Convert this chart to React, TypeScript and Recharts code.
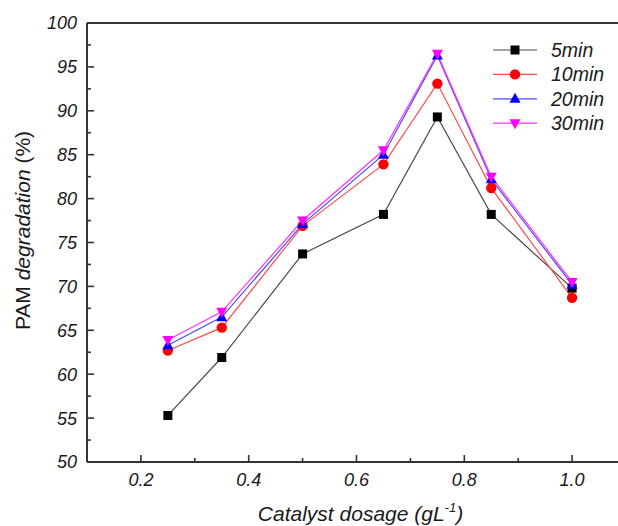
import React from 'react';
import { LineChart, Line, XAxis, YAxis, ReferenceLine } from 'recharts';

const dosage = [0.25, 0.35, 0.5, 0.65, 0.75, 0.85, 1.0];
const min5 = [55.3, 61.9, 73.7, 78.2, 89.3, 78.2, 69.8];
const min10 = [62.7, 65.3, 76.9, 83.9, 93.1, 81.2, 68.7];
const min20 = [63.3, 66.5, 77.1, 85.0, 96.3, 82.2, 70.2];
const min30 = [63.9, 67.1, 77.5, 85.5, 96.5, 82.5, 70.5];

const seriesNames = ['5min', '10min', '20min', '30min'];
const xTicks = [0.1, 0.2, 0.3, 0.4, 0.5, 0.6, 0.7, 0.8, 0.9, 1.0, 1.1];
const yTicks = [50, 52.5, 55, 57.5, 60, 62.5, 65, 67.5, 70, 72.5, 75, 77.5, 80, 82.5, 85, 87.5, 90, 92.5, 95, 97.5, 100];

const data = dosage.map((d, i) => ({
  dosage: d,
  m5: min5[i],
  m10: min10[i],
  m20: min20[i],
  m30: min30[i],
}));

const FONT = '"Liberation Sans", Arial, sans-serif';
const AXIS = '#333';
const TEXT = '#1a1a1a';

type Shape = 'square' | 'circle' | 'up' | 'down';

function Marker({ cx, cy, shape, color }: { cx: number; cy: number; shape: Shape; color: string }) {
  if (cx == null || cy == null || isNaN(cx) || isNaN(cy)) return null;
  if (shape === 'square') return <rect x={cx - 4.5} y={cy - 4.5} width={9} height={9} fill={color} />;
  if (shape === 'circle') return <circle cx={cx} cy={cy} r={5.2} fill={color} />;
  if (shape === 'up')
    return <polygon points={`${cx},${cy - 6} ${cx - 5.5},${cy + 4} ${cx + 5.5},${cy + 4}`} fill={color} />;
  return <polygon points={`${cx},${cy + 6} ${cx - 5.5},${cy - 4} ${cx + 5.5},${cy - 4}`} fill={color} />;
}

const series = [
  { key: 'm5', name: seriesNames[0], line: '#4a4a4a', marker: '#000000', shape: 'square' as Shape },
  { key: 'm10', name: seriesNames[1], line: '#ff4a4a', marker: '#ff0000', shape: 'circle' as Shape },
  { key: 'm20', name: seriesNames[2], line: '#4a4aff', marker: '#0000ff', shape: 'up' as Shape },
  { key: 'm30', name: seriesNames[3], line: '#ff30ff', marker: '#ff00ff', shape: 'down' as Shape },
];

function XTick(props: any) {
  const { x, y, payload } = props;
  const v = payload.value as number;
  const k = Math.round(v * 10);
  if (k <= 1 || k >= 11) return <g />;
  const major = k % 2 === 0;
  return (
    <g>
      <line x1={x} x2={x} y1={y} y2={y - (major ? 7 : 4)} stroke={AXIS} strokeWidth={1.6} />
      {major && (
        <text x={x} y={y + 24} textAnchor="middle" fontSize={18} fontStyle="italic" fill={TEXT} fontFamily={FONT}>
          {v.toFixed(1)}
        </text>
      )}
    </g>
  );
}

function YTick(props: any) {
  const { x, y, payload } = props;
  const v = payload.value as number;
  const major = v % 5 === 0;
  const showLine = v > 50 && v < 100;
  return (
    <g>
      {showLine && <line x1={x} x2={x + (major ? 7 : 4)} y1={y} y2={y} stroke={AXIS} strokeWidth={1.6} />}
      {major && (
        <text x={x - 10} y={y} dy="0.36em" textAnchor="end" fontSize={18} fontStyle="italic" fill={TEXT} fontFamily={FONT}>
          {v}
        </text>
      )}
    </g>
  );
}

function YLabel(props: any) {
  const vb = props.viewBox || { x: 0, y: 23, width: 87, height: 439 };
  const cx = vb.x + 22;
  const cy = vb.y + vb.height / 2 - 12;
  return (
    <text
      x={cx}
      y={cy}
      transform={`rotate(-90, ${cx}, ${cy})`}
      textAnchor="middle"
      dominantBaseline="central"
      fontSize={21}
      fill={TEXT}
      fontFamily={FONT}
    >
      <tspan>PAM </tspan>
      <tspan fontStyle="italic">degradation</tspan>
      <tspan> (%)</tspan>
    </text>
  );
}

function XLabel(props: any) {
  const vb = props.viewBox || { x: 87, y: 462, width: 539, height: 64 };
  const cx = vb.x + vb.width / 2 + 4;
  const by = vb.y + 59;
  return (
    <text x={cx} y={by} textAnchor="middle" fontSize={21} fontStyle="italic" fill={TEXT} fontFamily={FONT}>
      <tspan>Catalyst dosage (gL</tspan>
      <tspan fontSize={13} dy={-9}>-1</tspan>
      <tspan dy={9}>)</tspan>
    </text>
  );
}

function LegendBox() {
  const rowY = [14, 38.4, 62.8, 87.2];
  return (
    <div style={{ position: 'absolute', left: 490, top: 36, width: 128, height: 100 }}>
      <svg width={128} height={100}>
        {series.map((s, i) => (
          <g key={s.key}>
            <line x1={3} x2={47} y1={rowY[i]} y2={rowY[i]} stroke={s.line} strokeWidth={1.2} />
            <Marker cx={25} cy={rowY[i]} shape={s.shape} color={s.marker} />
            <text x={61} y={rowY[i]} dy="0.36em" fontSize={19.5} fontStyle="italic" fill={TEXT} fontFamily={FONT}>
              {s.name}
            </text>
          </g>
        ))}
      </svg>
    </div>
  );
}

export default function App() {
  return (
    <div style={{ position: 'absolute', left: 0, top: 0, width: 618, height: 526, overflow: 'hidden', background: '#fff' }}>
      <LineChart width={632} height={526} data={data} margin={{ top: 23, right: 6, bottom: 0, left: 0 }}>
        <XAxis
          dataKey="dosage"
          type="number"
          domain={[0.1, 1.1]}
          ticks={xTicks}
          allowDataOverflow
          interval={0}
          height={64}
          tickSize={0}
          tickMargin={0}
          tickLine={false}
          axisLine={{ stroke: AXIS, strokeWidth: 2 }}
          tick={<XTick />}
          label={<XLabel />}
        />
        <YAxis
          type="number"
          domain={[50, 100]}
          ticks={yTicks}
          allowDataOverflow
          interval={0}
          width={87}
          tickSize={0}
          tickMargin={0}
          tickLine={false}
          axisLine={{ stroke: AXIS, strokeWidth: 2 }}
          tick={<YTick />}
          label={<YLabel />}
        />
        <ReferenceLine y={100} stroke={AXIS} strokeWidth={2} />
        {series.map((s) => (
          <Line
            key={s.key}
            type="linear"
            dataKey={s.key}
            name={s.name}
            stroke={s.line}
            strokeWidth={1.2}
            isAnimationActive={false}
            activeDot={false}
            dot={(p: any) => <Marker key={`${s.key}-${p.index}`} cx={p.cx} cy={p.cy} shape={s.shape} color={s.marker} />}
          />
        ))}
      </LineChart>
      <LegendBox />
    </div>
  );
}
